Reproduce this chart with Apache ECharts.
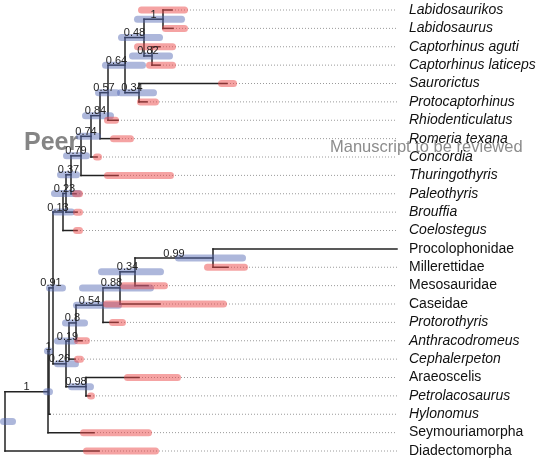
<!DOCTYPE html>
<html><head><meta charset="utf-8">
<script src="https://cdn.jsdelivr.net/npm/echarts@6/dist/echarts.min.js"></script>
<style>html,body{margin:0;padding:0;background:#fff}#c{width:542px;height:459px}</style>
</head><body><div id="c"></div><script>
// ---- data (ages in Ma) ----
const tipNames = ["Labidosaurikos","Labidosaurus","Captorhinus aguti","Captorhinus laticeps","Saurorictus","Protocaptorhinus","Rhiodenticulatus","Romeria texana","Concordia","Thuringothyris","Paleothyris","Brouffia","Coelostegus","Procolophonidae","Millerettidae","Mesosauridae","Caseidae","Protorothyris","Anthracodromeus","Cephalerpeton","Araeoscelis","Petrolacosaurus","Hylonomus","Seymouriamorpha","Diadectomorpha"];
const tipItalic = [1,1,1,1,1,1,1,1,1,1,1,1,1,0,0,0,0,1,1,1,0,1,1,0,0];
const tipAge = [269.2,268.8,274,274,247.2,279.2,290.8,290.4,299.2,290.8,307.6,307.2,307.2,179.2,246.8,278.8,274,290.8,305.2,308,282.4,302,318,300.4,298.4];
const tipRangeOld = [282.8,273.2,284.4,279.6,250.8,283.2,296.4,294,300.8,296.4,309.2,308.8,308.8,null,256.4,290,296.8,294.4,308.4,308.4,288.4,303.2,319.6,306,304.8];
const tipRangeYoung = [262.8,262.8,267.6,267.6,243.2,274.4,290.4,284.4,297.2,268.4,304.8,304.8,304.8,null,238.8,270.8,247.2,287.6,302,304.4,265.6,300,316.8,277.2,274.4];
const nodeChildren = [["t0","t1"],["t2","t3"],["n0","n1"],["t4","t5"],["n2","n3"],["n4","t6"],["n5","t7"],["n6","t8"],["n7","t9"],["n8","t10"],["n9","t11"],["n10","t12"],["t13","t14"],["n12","t15"],["n13","t16"],["n14","t17"],["n15","t18"],["n16","t19"],["t20","t21"],["n17","n18"],["n11","n19"],["n20","t22"],["n21","t23"],["n22","t24"]];
const nodeAge = [272.8,277.2,280.4,282.4,288,294.8,298,301.6,305.6,309.6,311.6,312.8,252.8,284,290,296.8,307.6,310.4,303.6,311.6,316.8,318.4,318.8,336];
const nodeHpdOld = [284.4,286.4,290.8,291.2,297.2,300,305.2,307.6,312.8,315.2,317.6,317.2,268,298.8,306.4,308.8,313.2,316.4,310.8,316.4,319.6,320.4,320.8,338];
const nodeHpdYoung = [264,268.8,272.8,275.2,279.6,290,292.4,297.6,302,306,305.2,308,239.6,272.4,276.4,289.2,302.8,306.8,300.4,306.4,311.6,316.8,316.8,331.6];
const nodeSupport = ["1","0.82","0.48","0.34","0.64","0.57","0.84","0.74","0.79","0.37","0.23","0.13","0.99","0.34","0.88","0.54","0.8","0.19","0.98","0.26","0.91","1","1",""];
const guideEndAge = 179.2;

// ---- layout from tree structure ----
const isTip = c => c[0] === 't';
const idxOf = c => +c.slice(1);
const nodeY = [], nodeParent = [];
nodeChildren.forEach((ch, k) => {
  const ys = ch.map(c => isTip(c) ? idxOf(c) : nodeY[idxOf(c)]);
  nodeY[k] = (ys[0] + ys[1]) / 2;
  ch.forEach(c => { if (!isTip(c)) nodeParent[idxOf(c)] = k; });
});
const yOf = c => isTip(c) ? idxOf(c) : nodeY[idxOf(c)];
const ageOf = c => isTip(c) ? tipAge[idxOf(c)] : nodeAge[idxOf(c)];

const branchSeg = [];
nodeChildren.forEach((ch, k) => {
  branchSeg.push([nodeAge[k], yOf(ch[0]), nodeAge[k], yOf(ch[1])]);
  ch.forEach(c => branchSeg.push([nodeAge[k], yOf(c), ageOf(c), yOf(c)]));
});
const guideSeg = [];
tipAge.forEach((a, i) => { if (a > guideEndAge + 0.5) guideSeg.push([a, i, guideEndAge, i]); });
const tipBars = [];
tipRangeOld.forEach((o, i) => { if (o != null) tipBars.push([o, tipRangeYoung[i], i]); });
const nodeBars = nodeHpdOld.map((o, k) => [o, nodeHpdYoung[k], nodeY[k]]);
const nodeLabels = [];
nodeSupport.forEach((s, k) => { if (s !== '' && nodeParent[k] != null) nodeLabels.push([nodeAge[nodeParent[k]], nodeAge[k], nodeY[k], k]); });

const FONT = '"Liberation Sans", Arial, Helvetica, sans-serif';
const BAR_W = 7;

function segRender(style) {
  return function (params, api) {
    const a = api.coord([api.value(0), api.value(1)]);
    const b = api.coord([api.value(2), api.value(3)]);
    return { type: 'line', shape: { x1: a[0], y1: a[1], x2: b[0], y2: b[1] }, style: style };
  };
}
function barRender(color) {
  return function (params, api) {
    const a = api.coord([api.value(0), api.value(2)]);
    const b = api.coord([api.value(1), api.value(2)]);
    let x1 = a[0] + BAR_W / 2, x2 = b[0] - BAR_W / 2;
    if (x2 < x1) { const m = (a[0] + b[0]) / 2; x1 = m - 0.01; x2 = m + 0.01; }
    return { type: 'line', shape: { x1: x1, y1: a[1], x2: x2, y2: a[1] },
      style: { stroke: color, lineWidth: BAR_W, lineCap: 'round' } };
  };
}

const chart = echarts.init(document.getElementById('c'), null, { renderer: 'canvas' });
chart.setOption({
  animation: false,
  backgroundColor: '#fff',
  grid: { left: 0, top: 10, width: 400, height: 441, containLabel: false, outerBoundsMode: 'none' },
  xAxis: { type: 'value', inverse: true, min: 178, max: 338, show: false, splitLine: { show: false } },
  yAxis: {
    type: 'value', inverse: true, min: 0, max: 24, interval: 1, position: 'right',
    axisLine: { show: false }, axisTick: { show: false }, splitLine: { show: false },
    axisLabel: {
      margin: 9, showMinLabel: true, showMaxLabel: true,
      formatter: function (v) {
        const i = Math.round(v);
        if (Math.abs(v - i) > 1e-6 || i < 0 || i >= tipNames.length) return '';
        return (tipItalic[i] ? '{i|' : '{n|') + tipNames[i] + '}';
      },
      rich: {
        i: { fontFamily: FONT, fontSize: 14, fontStyle: 'italic', color: '#111' },
        n: { fontFamily: FONT, fontSize: 14, color: '#111' }
      }
    }
  },
  graphic: [
    { type: 'text', left: 24, top: 131, z: 0, style: { text: 'Peer', font: 'bold 25px ' + FONT, fill: '#858585' } },
    { type: 'text', left: 330, top: 139, z: 0, style: { text: 'Manuscript to be reviewed', font: '16.5px ' + FONT, fill: '#8c8c8c' } }
  ],
  series: [
    { type: 'custom', name: 'guides', clip: false, z: 1, encode: { x: [0, 2], y: [1, 3] }, data: guideSeg,
      renderItem: segRender({ stroke: '#9a9a9a', lineWidth: 1, lineDash: [1, 2] }) },
    { type: 'custom', name: 'branches', clip: false, z: 2, encode: { x: [0, 2], y: [1, 3] }, data: branchSeg,
      renderItem: segRender({ stroke: '#222', lineWidth: 1.5, lineCap: 'square' }) },
    { type: 'custom', name: 'nodeHPD', clip: false, z: 3, encode: { x: [0, 1], y: 2 }, data: nodeBars,
      renderItem: barRender('rgba(84,104,180,0.48)') },
    { type: 'custom', name: 'tipRange', clip: false, z: 4, encode: { x: [0, 1], y: 2 }, data: tipBars,
      renderItem: barRender('rgba(236,72,72,0.5)') },
    { type: 'custom', name: 'support', clip: false, z: 5, encode: { x: [0, 1], y: 2 }, data: nodeLabels,
      renderItem: function (params, api) {
        const a = api.coord([api.value(0), api.value(2)]);
        const b = api.coord([api.value(1), api.value(2)]);
        const k = api.value(3);
        return { type: 'text', x: (a[0] + b[0]) / 2, y: a[1] + 1,
          style: { text: nodeSupport[k], font: '11px ' + FONT, fill: '#222', align: 'center', verticalAlign: 'bottom' } };
      } }
  ]
});
</script></body></html>
